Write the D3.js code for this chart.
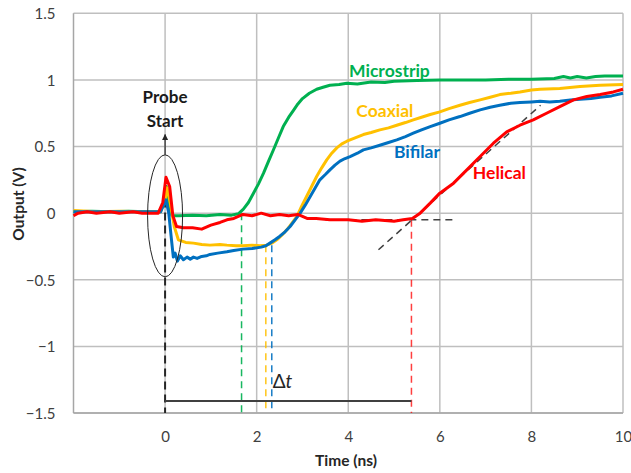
<!DOCTYPE html>
<html>
<head>
<meta charset="utf-8">
<script src="https://cdn.jsdelivr.net/npm/d3@7"></script>
<style>
  body { margin: 0; background: #fff; }
  svg { font-family: Lato, "Open Sans", sans-serif; }
</style>
</head>
<body>
<div id="container"></div>
<script>
// data: [time (ns), output (V)]
var microstrip = [[-2,0.01],[-1.6,0.015],[-1.2,0.01],[-0.8,0.015],[-0.4,0.01],[-0.1,0.01],[0.0,0.12],[0.03,0.2],[0.09,0.06],[0.15,-0.02],[0.3,-0.02],[0.6,-0.015],[0.9,-0.02],[1.2,-0.01],[1.45,-0.015],[1.6,-0.005],[1.71,0.03],[1.82,0.08],[1.93,0.15],[2.04,0.22],[2.15,0.3],[2.26,0.39],[2.36,0.47],[2.47,0.56],[2.58,0.65],[2.7,0.72],[2.8,0.77],[2.9,0.82],[3.0,0.86],[3.15,0.9],[3.31,0.93],[3.45,0.945],[3.6,0.96],[3.8,0.965],[3.97,0.975],[4.2,0.97],[4.5,0.985],[4.8,0.98],[5.0,0.99],[5.5,0.995],[6.0,1.0],[6.5,1.0],[7.0,1.0],[7.5,1.005],[8.0,1.005],[8.5,1.01],[8.7,1.025],[8.85,1.015],[9.0,1.025],[9.2,1.015],[9.4,1.025],[9.6,1.03],[10,1.03]];
var coaxial = [[-2,0.02],[-1.5,0.01],[-1,0.015],[-0.5,0.01],[-0.1,0.01],[0.0,0.1],[0.04,0.19],[0.1,0.1],[0.2,-0.1],[0.29,-0.2],[0.45,-0.22],[0.62,-0.225],[0.8,-0.235],[0.98,-0.24],[1.2,-0.235],[1.35,-0.24],[1.55,-0.245],[1.7,-0.245],[1.9,-0.24],[2.07,-0.245],[2.22,-0.24],[2.33,-0.225],[2.44,-0.2],[2.55,-0.165],[2.66,-0.125],[2.77,-0.075],[2.88,-0.025],[2.98,0.05],[3.09,0.125],[3.2,0.2],[3.31,0.275],[3.42,0.34],[3.53,0.4],[3.64,0.45],[3.75,0.49],[3.86,0.52],[3.97,0.54],[4.15,0.565],[4.33,0.59],[4.5,0.605],[4.69,0.625],[4.88,0.64],[5.06,0.66],[5.25,0.68],[5.42,0.7],[5.6,0.72],[5.79,0.74],[6.0,0.76],[6.2,0.785],[6.44,0.81],[6.65,0.83],[6.88,0.85],[7.1,0.87],[7.31,0.89],[7.55,0.9],[7.75,0.91],[8.0,0.925],[8.19,0.93],[8.62,0.935],[9.06,0.95],[9.5,0.96],[10,0.965]];
var bifilar = [[-2,0.01],[-1.5,0.01],[-1,0.01],[-0.5,0.01],[-0.1,0.01],[0.02,0.1],[0.08,0.0],[0.14,-0.2],[0.18,-0.33],[0.22,-0.3],[0.27,-0.36],[0.33,-0.32],[0.4,-0.35],[0.48,-0.33],[0.55,-0.345],[0.62,-0.33],[0.7,-0.34],[0.8,-0.325],[0.9,-0.32],[0.98,-0.31],[1.15,-0.3],[1.35,-0.29],[1.5,-0.28],[1.7,-0.27],[1.9,-0.265],[2.1,-0.255],[2.2,-0.245],[2.29,-0.225],[2.4,-0.2],[2.5,-0.175],[2.62,-0.14],[2.73,-0.1],[2.84,-0.05],[2.95,0.0],[3.06,0.06],[3.17,0.125],[3.28,0.19],[3.38,0.25],[3.5,0.29],[3.6,0.325],[3.71,0.36],[3.82,0.39],[3.93,0.41],[4.04,0.425],[4.2,0.45],[4.33,0.475],[4.5,0.49],[4.69,0.51],[4.88,0.53],[5.06,0.55],[5.25,0.575],[5.42,0.6],[5.6,0.625],[5.79,0.65],[6.0,0.675],[6.2,0.7],[6.44,0.725],[6.65,0.75],[6.88,0.775],[7.1,0.795],[7.31,0.81],[7.55,0.825],[7.75,0.83],[8.0,0.835],[8.19,0.84],[8.4,0.835],[8.62,0.84],[8.85,0.85],[9.06,0.855],[9.3,0.86],[9.5,0.87],[9.75,0.88],[10,0.9]];
var helical = [[-2,-0.02],[-1.9,0.0],[-1.7,0.01],[-1.5,0.0],[-1.2,0.01],[-1,0.0],[-0.7,0.01],[-0.5,0.0],[-0.15,0.0],[-0.05,0.08],[0.02,0.27],[0.1,0.2],[0.17,-0.02],[0.25,-0.1],[0.4,-0.11],[0.6,-0.11],[0.8,-0.12],[1.0,-0.09],[1.2,-0.07],[1.35,-0.05],[1.5,-0.04],[1.7,-0.01],[1.9,-0.02],[2.1,0.0],[2.3,-0.02],[2.5,-0.01],[2.7,-0.02],[2.9,-0.01],[3.1,-0.04],[3.3,-0.04],[3.6,-0.05],[4.0,-0.05],[4.3,-0.06],[4.6,-0.05],[5.0,-0.06],[5.2,-0.05],[5.4,-0.04],[5.57,0.0],[5.79,0.075],[6.0,0.15],[6.3,0.225],[6.59,0.325],[6.88,0.425],[7.17,0.525],[7.46,0.61],[7.75,0.66],[8.04,0.7],[8.33,0.75],[8.62,0.8],[8.92,0.85],[9.21,0.875],[9.5,0.89],[9.79,0.91],[10,0.93]];

var seriesNames = ["Microstrip", "Coaxial", "Bifilar", "Helical"];
var seriesColors = ["#00b050", "#ffc000", "#0070c0", "#ff0000"];
var seriesData = [microstrip, coaxial, bifilar, helical];
// label anchor [time, volts] for each series name
var labelPos = [[4.9, 1.07], [4.8, 0.77], [5.5, 0.46], [7.3, 0.3]];
// arrival times (ns) marked by dashed drop lines, and the level they start from
var arrivalT = [1.67, 2.2, 2.33, 5.38];
var arrivalV = [0.0, -0.24, -0.24, -0.05];

var xTicks = [0, 2, 4, 6, 8, 10];
var xGrid = [-2, 0, 2, 4, 6, 8, 10];
var yTicks = [-1.5, -1, -0.5, 0, 0.5, 1, 1.5];

var width = 631, height = 473;
var margin = {left: 73.5, right: 8, top: 13.3, bottom: 60};

var svg = d3.select("div#container").append("svg")
    .attr("width", width).attr("height", height);

var x = d3.scaleLinear().domain([-2, 10]).range([margin.left, width - margin.right]);
var y = d3.scaleLinear().domain([-1.5, 1.5]).range([height - margin.bottom, margin.top]);

// grid
svg.append("g").selectAll("line").data(yTicks).enter().append("line")
    .attr("x1", x(-2)).attr("x2", x(10))
    .attr("y1", function(d){ return y(d); }).attr("y2", function(d){ return y(d); })
    .style("stroke", "#bfbfbf").style("stroke-width", 1.5);
svg.append("g").selectAll("line").data(xGrid).enter().append("line")
    .attr("y1", y(-1.5)).attr("y2", y(1.5))
    .attr("x1", function(d){ return x(d); }).attr("x2", function(d){ return x(d); })
    .style("stroke", function(d){ return d == -2 ? "#a6a6a6" : "#bfbfbf"; })
    .style("stroke-width", 1.5);
svg.append("line").attr("x1", x(-2)).attr("x2", x(10)).attr("y1", y(-1.5)).attr("y2", y(-1.5))
    .style("stroke", "#a6a6a6").style("stroke-width", 1.5);

// axes (labels only)
var yAxis = svg.append("g").attr("transform", "translate(" + (margin.left - 15) + ",0)")
    .call(d3.axisLeft(y).tickValues(yTicks).tickSize(0).tickFormat(d3.format("")));
var xAxis = svg.append("g").attr("transform", "translate(0," + (y(-1.5) + 15) + ")")
    .call(d3.axisBottom(x).tickValues(xTicks).tickSize(0).tickFormat(d3.format("")));
svg.selectAll(".domain").remove();
svg.selectAll(".tick text").style("font-size", "15px").style("fill", "#404040")
    .style("font-family", "Lato, sans-serif");
yAxis.selectAll(".tick text").attr("dy", "0.35em");

svg.append("text").attr("x", 346).attr("y", 466).attr("text-anchor", "middle")
    .style("font-size", "15.5px").style("font-weight", "bold").style("fill", "#262626").text("Time (ns)");
svg.append("text").attr("transform", "translate(24,204) rotate(-90)").attr("text-anchor", "middle")
    .style("font-size", "15.5px").style("font-weight", "bold").style("fill", "#262626").text("Output (V)");

// annotations behind curves
var ann = svg.append("g");
seriesData.forEach(function(s, i){
  ann.append("line")
    .attr("x1", x(arrivalT[i])).attr("x2", x(arrivalT[i]))
    .attr("y1", y(arrivalV[i])).attr("y2", y(-1.5))
    .style("stroke", seriesColors[i]).style("stroke-width", 1.5)
    .style("stroke-dasharray", "7,5").style("opacity", i == 3 ? 0.75 : 0.9);
});
// tangent + baseline for helical
ann.append("line").attr("x1", x(3.5)).attr("x2", x(6.3)).attr("y1", y(-0.05)).attr("y2", y(-0.05))
    .style("stroke", "#404040").style("stroke-width", 1.5).style("stroke-dasharray", "7,5");
ann.append("line").attr("x1", x(4.66)).attr("x2", x(8.2)).attr("y1", y(-0.275)).attr("y2", y(0.81))
    .style("stroke", "#404040").style("stroke-width", 1.5).style("stroke-dasharray", "7,5");
// probe start dashed line
ann.append("line").attr("x1", x(0)).attr("x2", x(0)).attr("y1", y(0.2)).attr("y2", y(-1.5))
    .style("stroke", "#262626").style("stroke-width", 2).style("stroke-dasharray", "8,5");
// delta t bar
ann.append("line").attr("x1", x(0)).attr("x2", x(arrivalT[3])).attr("y1", y(-1.41)).attr("y2", y(-1.41))
    .style("stroke", "#404040").style("stroke-width", 2);
var dt = ann.append("text").attr("x", x(2.35)).attr("y", y(-1.31))
    .style("font-size", "19px").style("fill", "#262626");
dt.append("tspan").text("Δ");
dt.append("tspan").style("font-style", "italic").text("t");

// curves
var line = d3.line().x(function(d){ return x(d[0]); }).y(function(d){ return y(d[1]); });
svg.append("g").selectAll("path").data(seriesData).enter().append("path")
    .attr("d", line)
    .style("fill", "none")
    .style("stroke", function(d, i){ return seriesColors[i]; })
    .style("stroke-width", 3)
    .style("stroke-linejoin", "round");

// series labels
svg.append("g").selectAll("text").data(seriesNames).enter().append("text")
    .attr("x", function(d, i){ return x(labelPos[i][0]); })
    .attr("y", function(d, i){ return y(labelPos[i][1]); })
    .attr("text-anchor", "middle").attr("dy", "0.35em")
    .style("font-size", "17.5px").style("font-weight", "bold")
    .style("fill", function(d, i){ return seriesColors[i]; })
    .text(function(d){ return d; });

// probe start ellipse, arrow and label
svg.append("defs").append("marker").attr("id", "arrow")
    .attr("viewBox", "0 0 10 10").attr("refX", 9).attr("refY", 5)
    .attr("markerWidth", 5).attr("markerHeight", 5).attr("orient", "auto")
    .append("path").attr("d", "M0,0L10,5L0,10z").style("fill", "#262626");
svg.append("ellipse").attr("cx", x(0)).attr("cy", y(-0.02)).attr("rx", 17.5).attr("ry", 61)
    .style("fill", "none").style("stroke", "#262626").style("stroke-width", 1);
svg.append("line").attr("x1", x(0)).attr("x2", x(0)).attr("y1", y(-0.02) - 61).attr("y2", y(0.59))
    .style("stroke", "#262626").style("stroke-width", 1.2).attr("marker-end", "url(#arrow)");
var ps = svg.append("text").attr("text-anchor", "middle")
    .style("font-size", "17px").style("font-weight", "bold").style("fill", "#1a1a1a");
ps.append("tspan").attr("x", x(0)).attr("y", 103).text("Probe");
ps.append("tspan").attr("x", x(0)).attr("y", 127).text("Start");
</script>
</body>
</html>
